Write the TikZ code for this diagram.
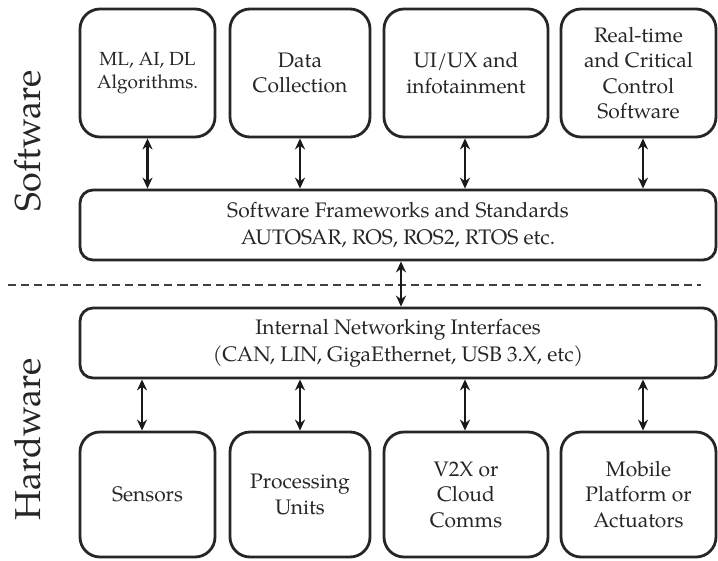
\documentclass[tikz,border=0pt]{standalone}
\usepackage{fontspec}
\setmainfont{TeX Gyre Pagella}
\usetikzlibrary{arrows.meta}

\tikzset{
  unit/.style={draw=black!85, line width=2.8pt, rounded corners=20pt, align=center,
    inner sep=2pt, font=\fontsize{21}{25.5}\selectfont, text=black!85},
  bus/.style={draw=black!85, line width=2.8pt, rounded corners=13pt, align=center,
    minimum width=636pt, minimum height=70pt, inner sep=2pt,
    font=\fontsize{21}{27}\selectfont, text=black!85},
  link/.style={line width=2.4pt, black!90, {Stealth[length=11pt,width=10pt]}-{Stealth[length=11pt,width=10pt]}},
  layer/.style={rotate=90, font=\fontsize{36}{40}\selectfont, text=black!85},
  divider/.style={line width=1.5pt, black!75, dash pattern=on 8pt off 5pt}
}

\begin{document}
\begin{tikzpicture}[x=1pt, y=-1pt]
\useasboundingbox (0,0) rectangle (718,560);

% software side
\node[unit, minimum width=135pt, minimum height=128pt, font=\fontsize{19}{23.5}\selectfont] (ml) at (147.5,73) {ML, AI, DL\\Algorithms.};
\node[unit, minimum width=140pt, minimum height=128pt] (data) at (300,73) {Data\\Collection};
\node[unit, minimum width=164pt, minimum height=128pt] (ui) at (466,73) {UI/UX and\\infotainment};
\node[unit, minimum width=155pt, minimum height=128pt] (rt) at (638.5,73) {Real-time\\and Critical\\Control\\Software};

\node[bus] (fw) at (398,225) {Software Frameworks and Standards\\AUTOSAR, ROS, ROS2, RTOS etc.};

% hardware side
\node[bus] (net) at (398,343) {Internal Networking Interfaces\\(CAN, LIN, GigaEthernet, USB 3.X, etc)};

\node[unit, minimum width=135pt, minimum height=125pt] (sen) at (147.5,494.5) {Sensors};
\node[unit, minimum width=140pt, minimum height=125pt] (proc) at (300,494.5) {Processing\\Units};
\node[unit, minimum width=164pt, minimum height=125pt] (v2x) at (466,494.5) {V2X or\\Cloud\\Comms};
\node[unit, minimum width=155pt, minimum height=125pt] (mob) at (638.5,494.5) {Mobile\\Platform or\\Actuators};

% layer labels
\node[layer] (swlabel) at (28,141) {Software};
\node[layer] (hwlabel) at (28,439) {Hardware};

% boundary between the layers
\coordinate (divL) at (8,285);
\coordinate (divR) at (701,285);
\draw[divider] (divL) -- (divR);

% connectors
\draw[link] (ml.south) -- (ml.south |- fw.north);
\draw[link] (data.south) -- (data.south |- fw.north);
\draw[link] ([xshift=-1pt]ui.south) -- ([xshift=-1pt]ui.south |- fw.north);
\draw[link] ([xshift=4.5pt]rt.south) -- ([xshift=4.5pt]rt.south |- fw.north);

\draw[link] ([xshift=3pt]fw.south) -- ([xshift=3pt]net.north);

\draw[link] ([xshift=-5.5pt]sen.north) -- ([xshift=-5.5pt]sen.north |- net.south);
\draw[link] (proc.north) -- (proc.north |- net.south);
\draw[link] ([xshift=-1pt]v2x.north) -- ([xshift=-1pt]v2x.north |- net.south);
\draw[link] ([xshift=4.5pt]mob.north) -- ([xshift=4.5pt]mob.north |- net.south);
\end{tikzpicture}
\end{document}
